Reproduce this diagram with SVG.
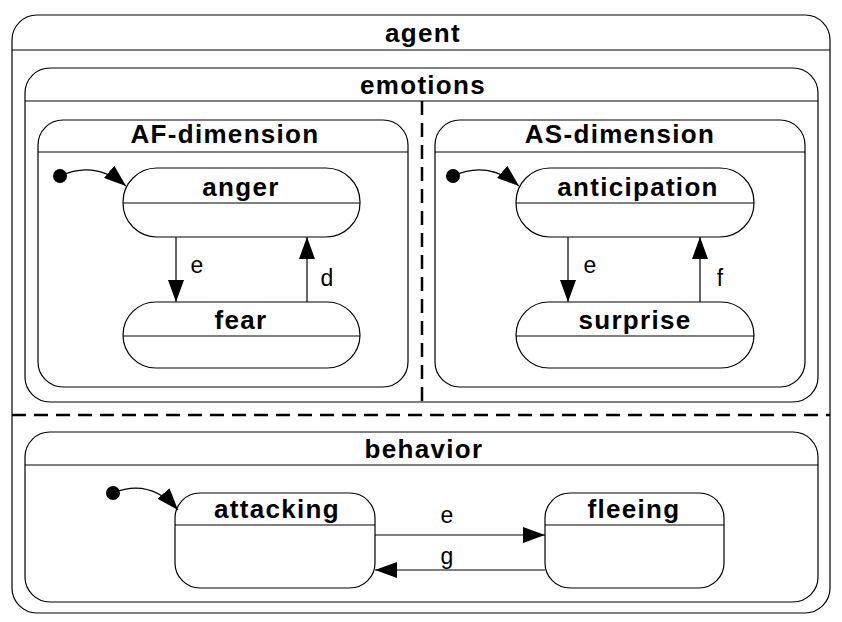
<svg xmlns="http://www.w3.org/2000/svg" width="842" height="622" viewBox="0 0 842 622">
<style>
.b{fill:#fff;stroke:#000;stroke-width:1.2}
.l{stroke:#000;stroke-width:1.2;fill:none}
.t{font-family:"Liberation Sans",Arial,sans-serif;font-weight:bold;font-size:26px;letter-spacing:1.3px;text-anchor:middle}
.n{font-family:"Liberation Sans",Arial,sans-serif;font-size:23px;text-anchor:middle}
.d{stroke:#000;stroke-width:2.5;stroke-dasharray:14,8;fill:none}
</style>
<defs><marker id="a" viewBox="0 0 22 16" refX="22" refY="8" markerWidth="22" markerHeight="16" markerUnits="userSpaceOnUse" orient="auto"><path d="M0,0L22,8L0,16z" fill="#000"/></marker></defs>
<rect width="842" height="622" fill="#fff"/>
<g id="agent"><rect class="b" x="12" y="15" width="818" height="598" rx="25"/><line class="l" x1="12" y1="50" x2="830" y2="50"/><text class="t" x="423" y="42">agent</text></g>
<g id="emotions"><rect class="b" x="25" y="68" width="793" height="334" rx="25"/><line class="l" x1="25" y1="101" x2="818" y2="101"/><text class="t" x="423" y="94">emotions</text></g>
<g id="AF"><rect class="b" x="38" y="120" width="370" height="267" rx="25"/><line class="l" x1="38" y1="152" x2="408" y2="152"/><text class="t" x="225" y="143">AF-dimension</text></g>
<g id="AS"><rect class="b" x="435" y="120" width="370" height="267" rx="25"/><line class="l" x1="435" y1="152" x2="805" y2="152"/><text class="t" x="620" y="143">AS-dimension</text></g>
<g id="anger"><rect class="b" x="123" y="168" width="237" height="69" rx="34"/><line class="l" x1="123" y1="203" x2="360" y2="203"/><text class="t" x="241" y="196">anger</text></g>
<g id="fear"><rect class="b" x="123" y="302" width="237" height="66" rx="33"/><line class="l" x1="123" y1="336" x2="360" y2="336"/><text class="t" x="241" y="329">fear</text></g>
<g id="anticipation"><rect class="b" x="516" y="168" width="238" height="69" rx="34"/><line class="l" x1="516" y1="203" x2="754" y2="203"/><text class="t" x="638" y="196">anticipation</text></g>
<g id="surprise"><rect class="b" x="516" y="302" width="238" height="66" rx="33"/><line class="l" x1="516" y1="336" x2="754" y2="336"/><text class="t" x="635" y="329">surprise</text></g>
<g id="behavior"><rect class="b" x="25" y="432" width="793" height="170" rx="25"/><line class="l" x1="25" y1="465" x2="818" y2="465"/><text class="t" x="424" y="458">behavior</text></g>
<g id="attacking"><rect class="b" x="175" y="493" width="200" height="95" rx="25"/><line class="l" x1="175" y1="525" x2="375" y2="525"/><text class="t" x="277" y="518">attacking</text></g>
<g id="fleeing"><rect class="b" x="545" y="493" width="179" height="95" rx="25"/><line class="l" x1="545" y1="525" x2="724" y2="525"/><text class="t" x="634" y="518">fleeing</text></g>
<g id="initials"><circle cx="60" cy="176" r="7"/><circle cx="453" cy="176" r="7"/><circle cx="113" cy="493" r="7"/></g>
<g id="connectors">
<line class="d" x1="422" y1="101" x2="422" y2="402"/>
<line class="d" x1="12" y1="415" x2="830" y2="415"/>
<path class="l" d="M60,176 Q95,160 126,186" marker-end="url(#a)"/>
<path class="l" d="M453,176 Q488,160 519,186" marker-end="url(#a)"/>
<path class="l" d="M113,493 Q150,478 178,510" marker-end="url(#a)"/>
<line class="l" x1="176" y1="237" x2="176" y2="302" marker-end="url(#a)"/>
<line class="l" x1="307" y1="302" x2="307" y2="237" marker-end="url(#a)"/>
<line class="l" x1="568" y1="237" x2="568" y2="302" marker-end="url(#a)"/>
<line class="l" x1="700" y1="302" x2="700" y2="237" marker-end="url(#a)"/>
<line class="l" x1="375" y1="535" x2="545" y2="535" marker-end="url(#a)"/>
<line class="l" x1="545" y1="570" x2="375" y2="570" marker-end="url(#a)"/>
<text class="n" x="197" y="273">e</text><text class="n" x="327" y="286">d</text>
<text class="n" x="590" y="273">e</text><text class="n" x="720" y="286">f</text>
<text class="n" x="447" y="523">e</text><text class="n" x="447" y="564">g</text>
</g>
</svg>
